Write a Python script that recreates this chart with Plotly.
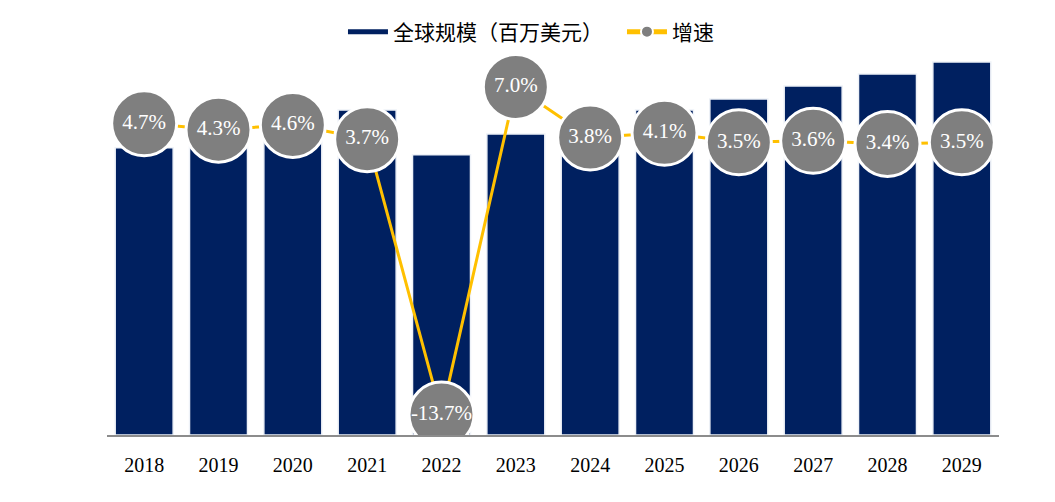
import plotly.graph_objects as go

years = ["2018", "2019", "2020", "2021", "2022", "2023", "2024", "2025", "2026", "2027", "2028", "2029"]
market_size = [2875, 3000, 3140, 3255, 2805, 3015, 3125, 3255, 3365, 3495, 3615, 3735]
growth = [4.7, 4.3, 4.6, 3.7, -13.7, 7.0, 3.8, 4.1, 3.5, 3.6, 3.4, 3.5]
growth_labels = [f"{g:.1f}%" for g in growth]

NAVY = "#002060"
GOLD = "#FFC000"
GREY = "#7F7F7F"
SERIF = "Liberation Serif, Times New Roman, serif"
CJK = "Noto Sans CJK SC, sans-serif"

fig = go.Figure()

fig.add_trace(go.Bar(
    x=years, y=market_size, name="全球规模（百万美元）",
    marker=dict(color=NAVY, line=dict(color="#eef2f8", width=1.5)),
    width=0.78, yaxis="y", showlegend=False,
))

# legend proxy for bars (wide navy rectangle)
fig.add_trace(go.Scatter(
    x=[None], y=[None], name="全球规模（百万美元）", mode="lines",
    line=dict(color=NAVY, width=11), yaxis="y",
))

fig.add_trace(go.Scatter(
    x=years, y=growth, name="增速", mode="lines+markers",
    line=dict(color=GOLD, width=3),
    marker=dict(color=GREY, size=65, line=dict(color="white", width=3)),
    yaxis="y2",
))

fig.add_trace(go.Scatter(
    x=years, y=growth, mode="text", text=growth_labels,
    textposition="middle center",
    textfont=dict(family=SERIF, size=21, color="white"),
    showlegend=False, yaxis="y2", hoverinfo="skip",
))

fig.update_layout(
    width=1039, height=486,
    margin=dict(l=99, r=48, t=42, b=58.5, autoexpand=False),
    paper_bgcolor="white", plot_bgcolor="white",
    xaxis=dict(
        type="category", range=[-0.5, 11.5], showgrid=False, ticks="",
        showline=True, linecolor="#8c8c8c", linewidth=2,
        tickfont=dict(family=SERIF, size=20, color="black"),
        ticklabelstandoff=11,
    ),
    yaxis=dict(range=[0, 3855], visible=False, showgrid=False),
    yaxis2=dict(range=[-14.99, 9.33], overlaying="y", visible=False, showgrid=False),
    legend=dict(
        orientation="h", xref="container", x=0.3224, xanchor="left",
        yref="container", y=0.9506, yanchor="middle",
        font=dict(family=CJK, size=21, color="black"),
        itemsizing="constant", itemwidth=40,
        entrywidth=224, entrywidthmode="pixels",
        bgcolor="rgba(0,0,0,0)",
    ),
)

fig.write_html("out.html")
